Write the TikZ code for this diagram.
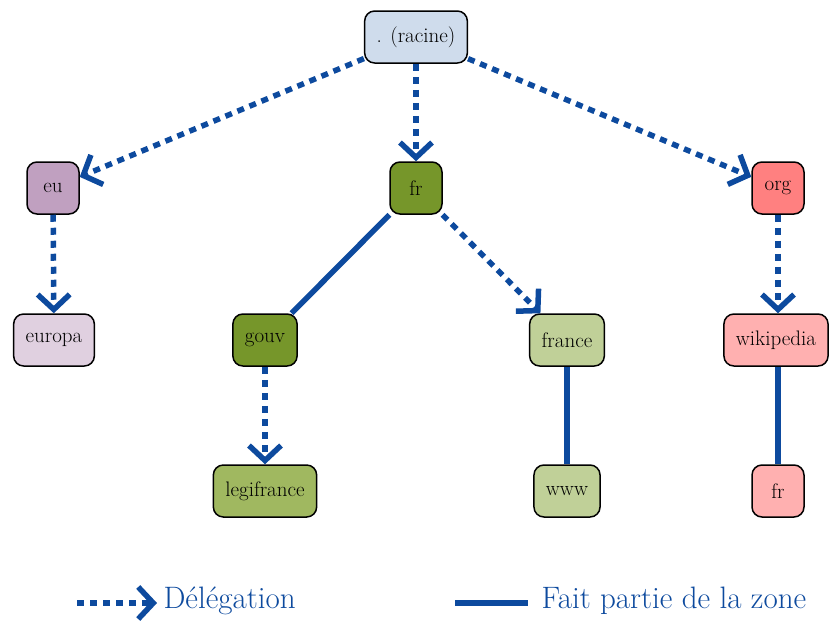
\documentclass[tikz,border=0pt]{standalone}
\usetikzlibrary{arrows.meta}
\definecolor{edgeblue}{RGB}{13,74,158}
\definecolor{rootc}{RGB}{207,220,236}
\definecolor{euc}{RGB}{192,160,192}
\definecolor{europac}{RGB}{224,208,224}
\definecolor{frc}{RGB}{118,150,42}
\definecolor{legic}{RGB}{160,184,96}
\definecolor{francec}{RGB}{192,208,152}
\definecolor{orgc}{RGB}{255,128,128}
\definecolor{wikic}{RGB}{255,176,176}
\tikzset{
  zone/.style={draw=black, line width=1.5pt, rounded corners=10pt, minimum height=52pt, minimum width=52pt, inner xsep=12pt, font=\fontsize{21}{23}\selectfont},
  deleg/.style={draw=edgeblue, line width=5.5pt, dash pattern=on 7pt off 6pt, -{Straight Barb[length=15pt,width=32pt]}},
  part/.style={draw=edgeblue, line width=5.5pt},
  legtext/.style={text=edgeblue, font=\fontsize{31}{33}\selectfont, anchor=west},
}
\begin{document}
\begin{tikzpicture}[x=1pt,y=-1pt]
\useasboundingbox (0,0) rectangle (829,621);
\node[zone, fill=rootc] (root) at (416,37) {. (racine)};
\node[zone, fill=euc] (eu) at (53,188) {eu};
\node[zone, fill=europac] (europa) at (54,340) {europa};
\node[zone, fill=frc] (fr) at (416,188) {fr};
\node[zone, fill=frc] (gouv) at (265,340) {gouv};
\node[zone, fill=legic] (legifrance) at (265,491) {legifrance};
\node[zone, fill=francec] (france) at (567,340) {france};
\node[zone, fill=francec] (www) at (567,491) {www};
\node[zone, fill=orgc] (org) at (778,188) {org};
\node[zone, fill=wikic] (wikipedia) at (776,340) {wikipedia};
\node[zone, fill=wikic] (frb) at (778,491) {fr};

\draw[deleg] (root) -- (eu);
\draw[deleg] (root) -- (fr);
\draw[deleg] (root) -- (org);
\draw[deleg] (eu) -- (europa);
\draw[part] (fr) -- (gouv);
\draw[deleg] (fr) -- (france);
\draw[deleg] (gouv) -- (legifrance);
\draw[part] (france) -- (www);
\draw[deleg] (org) -- (wikipedia.north -| org);
\draw[part] (wikipedia.south -| frb) -- (frb);

\coordinate (la) at (77,603);
\coordinate (lb) at (157,603);
\draw[deleg] (la) -- (lb);
\node[legtext] (ld) at (160,601) {Délégation};
\coordinate (lc) at (455,603);
\coordinate (ldd) at (528,603);
\draw[part] (lc) -- (ldd);
\node[legtext] (lf) at (538,601) {Fait partie de la zone};
\end{tikzpicture}
\end{document}
